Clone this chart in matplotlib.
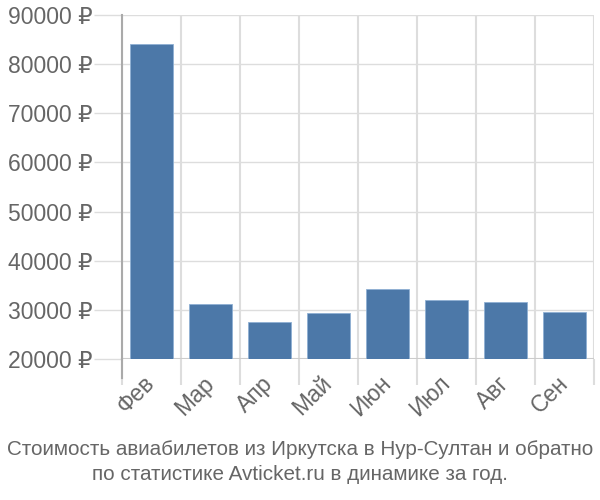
import matplotlib
matplotlib.use("Agg")
import matplotlib.pyplot as plt
import numpy as np

months = ["Фев", "Мар", "Апр", "Май", "Июн", "Июл", "Авг", "Сен"]
prices = [84000, 31200, 27500, 29400, 34200, 32100, 31600, 29500]
yticks = [20000, 30000, 40000, 50000, 60000, 70000, 80000, 90000]
title = ("Стоимость авиабилетов из Иркутска в Нур-Султан и обратно\n"
         "по статистике Avticket.ru в динамике за год.")

plt.rcParams['font.family'] = ['Liberation Sans', 'DejaVu Sans']
text_color = '#666666'

fig = plt.figure(figsize=(6, 5), dpi=100)
ax = fig.add_axes([0.203, 0.282, 0.787, 0.688])

x = np.arange(len(months))
ax.bar(x, np.array(prices) - 20000, bottom=20000, width=0.72,
       color='#4c78a8', edgecolor='#8fb0d3', linewidth=0.6, zorder=3)

ax.set_xlim(-0.5, len(months) - 0.5)
ax.set_ylim(20000, 90000)

ax.set_yticks(yticks)
ax.set_yticklabels([f"{v} ₽" for v in yticks], fontsize=16.5, color=text_color)
ax.tick_params(axis='y', length=20, width=1, color='#dddddd', pad=1)

ax.set_xticks(x)
ax.set_xticklabels(months, rotation=45, ha='right', va='center',
                   rotation_mode='anchor', fontsize=16.5, color=text_color)
ax.tick_params(axis='x', which='major', length=0, pad=15)
ax.set_xticks(np.arange(len(months) + 1) - 0.5, minor=True)
ax.tick_params(axis='x', which='minor', length=19, width=1.5, color='#dddddd')

ax.grid(axis='y', color='#dddddd', linewidth=1, zorder=0)
ax.grid(axis='x', which='minor', color='#dddddd', linewidth=1.5, zorder=0)

for s in ['top', 'right', 'bottom']:
    ax.spines[s].set_visible(False)
ax.spines['left'].set_color('#aaaaaa')
ax.spines['left'].set_linewidth(1.5)
ax.plot([-0.5, -0.5], [20000, 16200], color='#aaaaaa', linewidth=1.5,
        clip_on=False, zorder=4)
ax.axhline(20000, color='#cccccc', linewidth=1.5, zorder=2)

fig.text(0.5, 0.032, title, ha='center', va='bottom', fontsize=14.9,
         color=text_color, linespacing=1.4)

fig.savefig("out.png", dpi=100)
